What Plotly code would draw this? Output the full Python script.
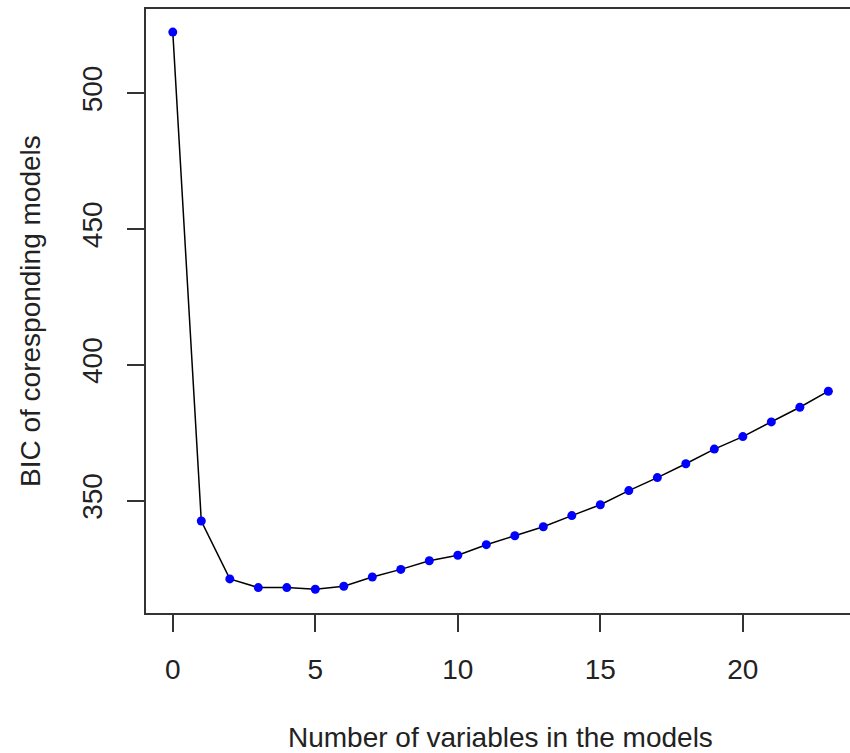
import plotly.graph_objects as go

n_vars = list(range(24))
bic = [522.5, 342.5, 321.2, 318.0, 318.0, 317.4, 318.5, 321.9, 324.7, 327.9,
       329.9, 333.8, 337.1, 340.4, 344.5, 348.5, 353.7, 358.5, 363.6, 369.0,
       373.6, 379.0, 384.4, 390.3]
x_ticks = [0, 5, 10, 15, 20]
y_ticks = [350, 400, 450, 500]

font_family = "Liberation Sans, Arial, sans-serif"
axis_color = "#333333"

fig = go.Figure()
fig.add_trace(go.Scatter(
    x=n_vars, y=bic, mode="lines+markers",
    line=dict(color="black", width=1.5),
    marker=dict(color="#0000FF", size=9),
    showlegend=False,
))

fig.update_layout(
    width=850, height=753,
    margin=dict(l=146, r=0, t=9, b=140),
    paper_bgcolor="white", plot_bgcolor="white",
    font=dict(family=font_family, size=28, color="#222222"),
    xaxis=dict(
        range=[-0.94, 23.76], tickvals=x_ticks, ticktext=[str(v) for v in x_ticks],
        showgrid=False, zeroline=False,
        showline=True, mirror=True, linecolor=axis_color, linewidth=1.5,
        ticks="outside", ticklen=17, tickwidth=1.5, tickcolor=axis_color,
        ticklabelstandoff=14,
    ),
    yaxis=dict(
        range=[308.65, 531.0], tickvals=y_ticks, ticktext=[str(v) for v in y_ticks],
        showgrid=False, zeroline=False,
        showline=True, mirror=False, linecolor=axis_color, linewidth=1.5,
        ticks="outside", ticklen=17, tickwidth=1.5, tickcolor=axis_color,
        tickangle=-90, ticklabelstandoff=14,
    ),
    annotations=[
        dict(text="Number of variables in the models", xref="paper", yref="paper",
             x=(500 - 146) / (850 - 146), y=-(737 - 613) / (613 - 9),
             xanchor="center", yanchor="middle", showarrow=False,
             font=dict(family=font_family, size=28, color="#222222")),
        dict(text="BIC of coresponding models", xref="paper", yref="paper",
             x=-(146 - 30) / (850 - 146), y=0.5, textangle=-90,
             xanchor="center", yanchor="middle", showarrow=False,
             font=dict(family=font_family, size=28, color="#222222")),
    ],
)

fig.write_html("out.html")
